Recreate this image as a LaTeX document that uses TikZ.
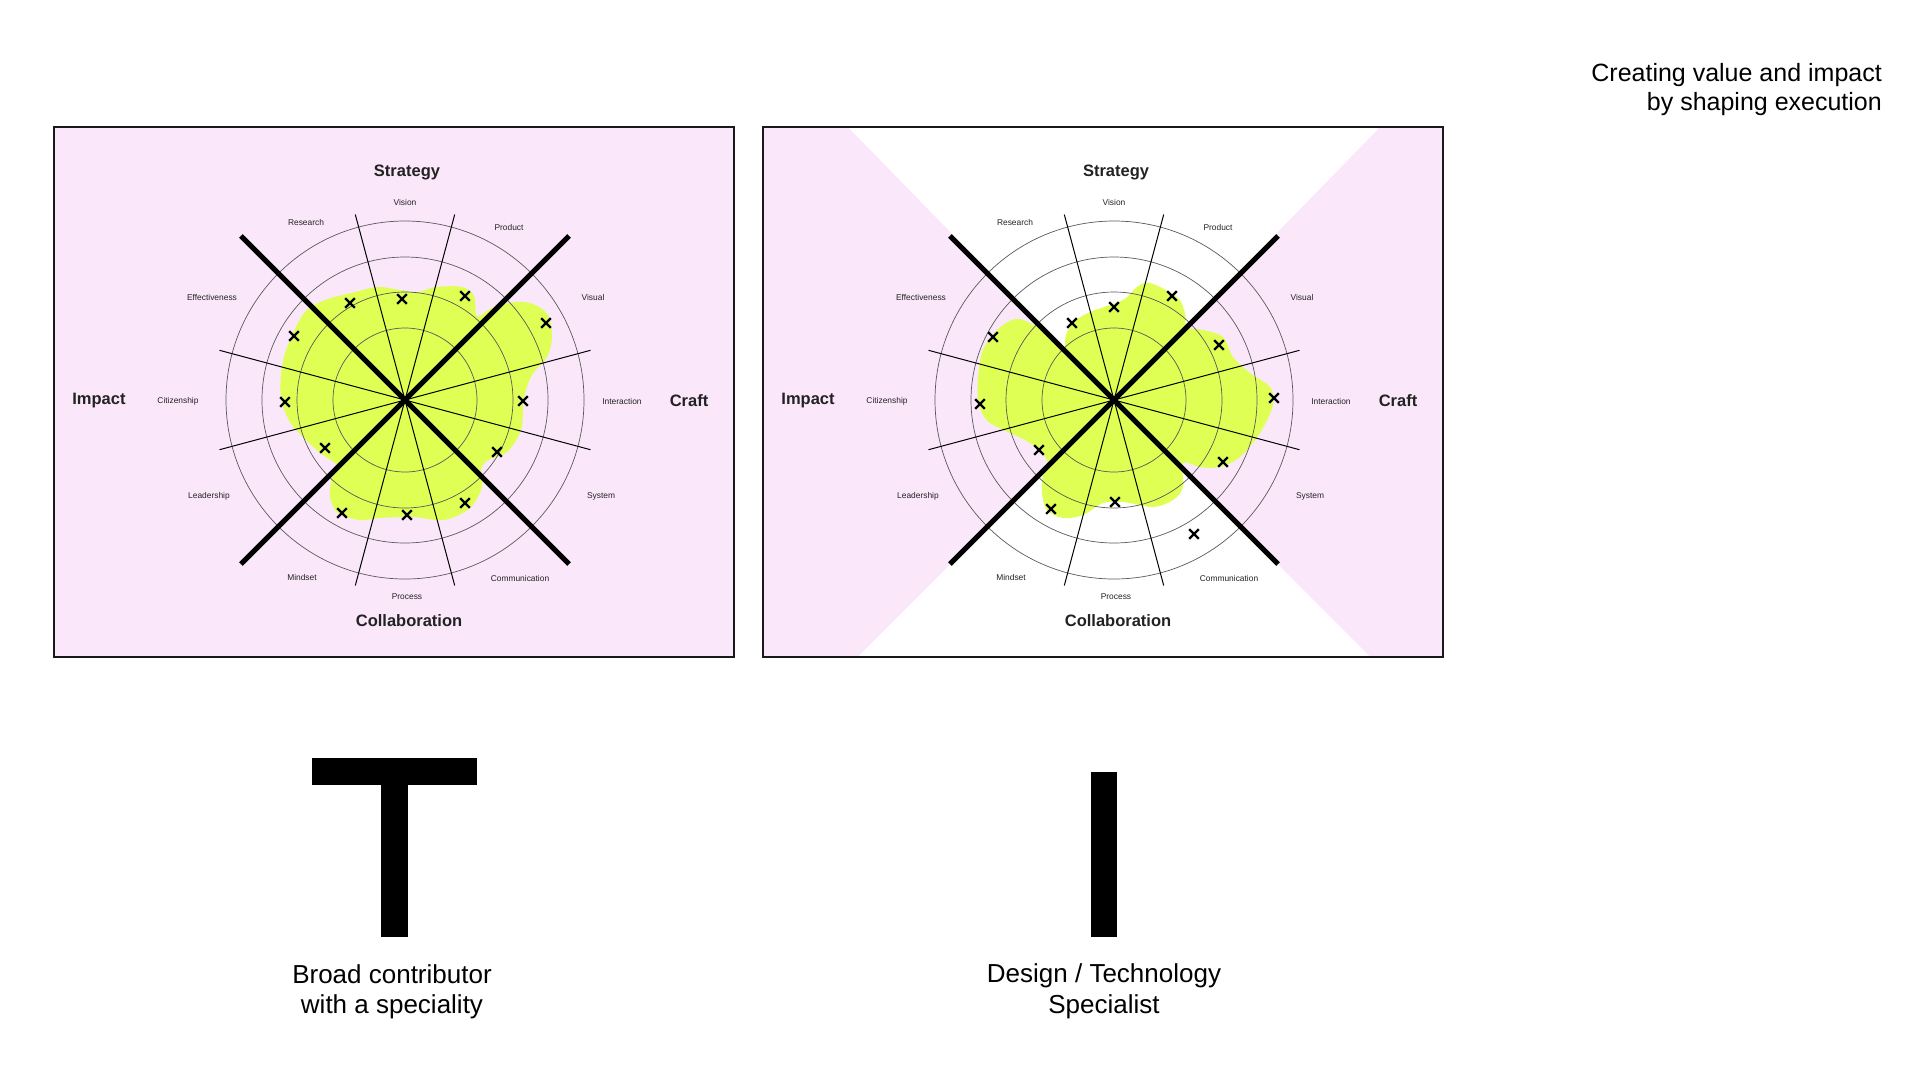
\documentclass[tikz,border=0pt]{standalone}
\usepackage{fontspec}
\setmainfont{Liberation Sans}
\usetikzlibrary{shapes.misc}

\definecolor{bgpink}{HTML}{FAE8FA}
\definecolor{blobgreen}{HTML}{DFFF55}
\definecolor{inkgrey}{HTML}{222222}

% grid, axes and labels of one radar chart, #1 = name prefix
\newcommand{\radargrid}[1]{%
    \foreach \r in {72,108,143,179}
        \draw[ring] (0,0) circle (\r);
    \foreach \a in {15,75,105,165}
        \draw[spoke] (\a:192) -- (\a+180:192);
    \foreach \a in {45,135}
        \draw[axisline] (\a:232) -- (\a+180:232);
    \foreach \t/\x/\y in {Vision/0/-198, Research/-99/-178, Product/104/-173,
        Effectiveness/-193/-103, Visual/188/-103, Citizenship/-227/1,
        Interaction/217/1, Leadership/-196/96, System/196/96,
        Mindset/-103/177, Process/2/197, Communication/115/178}
        \node[lbl] (#1-\t) at (\x,\y) {\t};
    \node[axislbl] (#1-strategy) at (2,-228) {Strategy};
    \node[axislbl] (#1-collab) at (4,221) {Collaboration};
    \node[axislbl] (#1-impact) at (-306,1) {Impact};
    \node[axislbl] (#1-craft) at (284,1) {Craft};
}

\begin{document}
\begin{tikzpicture}[x=1pt, y=-1pt,
    ring/.style={draw=black!65, line width=0.7pt},
    spoke/.style={draw=black, line width=1pt},
    axisline/.style={draw=black, line width=5pt},
    xmark/.style={cross out, draw=black, line width=2.2pt, minimum size=7.5pt, inner sep=0pt},
    blob/.style={fill=blobgreen},
    lbl/.style={font=\fontsize{8.4}{9}\selectfont, text=inkgrey, inner sep=0pt},
    axislbl/.style={font=\fontsize{16.5}{19}\selectfont\bfseries, text=inkgrey, inner sep=0pt},
    caption/.style={font=\fontsize{26}{30.5}\selectfont, align=center, inner sep=0pt, anchor=north},
    frame/.style={draw=black!90, line width=1.3pt}]

    \useasboundingbox (0,0) rectangle (1920,1080);

    % left chart: broad contributor
    \fill[bgpink] (54,127) rectangle (734,657);
    \begin{scope}[shift={(405,400)}]
        \fill[blob] plot[smooth cycle, tension=0.55] coordinates {
            (-124,-2) (-123,-34) (-115,-60) (-100,-88) (-80,-100) (-50,-108)
            (-27,-113) (-5,-110) (13,-108) (31,-113) (57,-113) (69,-104)
            (72,-84) (87,-92) (110,-98) (128,-96) (143,-85) (147,-63)
            (142,-43) (127,-25) (119,-2) (116,30) (102,52) (83,60) (76,70)
            (77,87) (65,108) (39,120) (8,117) (-25,118) (-45,120) (-67,113)
            (-75,97) (-73,78) (-67,66) (-85,53) (-102,37) (-115,22)};
        \radargrid{a}
        \foreach \x/\y [count=\i] in {-55/-97, -3/-101, 60/-104, 141/-77,
            -111/-64, -120/2, 118/1, -80/48, 92/52, -63/113, 2/115, 60/103}
            \node[xmark] (am\i) at (\x,\y) {};
    \end{scope}
    \draw[frame] (54,127) rectangle (734,657);

    % right chart: specialist
    \begin{scope}
        \clip (763,127) rectangle (1443,657);
        \fill[bgpink] (1114,400) -- ++(-700,-718) -- ++(0,1420) -- cycle;
        \fill[bgpink] (1114,400) -- ++(700,-718) -- ++(0,1420) -- cycle;
    \end{scope}
    \begin{scope}[shift={(1114,400)}]
        \fill[blob] plot[smooth cycle, tension=0.55] coordinates {
            (-136,0) (-136,-23) (-131,-50) (-117,-70) (-99,-81) (-84,-77)
            (-69,-67) (-56,-53) (-50,-48) (-48,-65) (-40,-78) (-24,-88)
            (9,-100) (23,-113) (36,-117) (63,-103) (71,-87) (73,-73)
            (89,-70) (109,-63) (119,-43) (136,-27) (156,-13) (159,5)
            (146,33) (126,57) (106,67) (86,67) (69,63) (69,87) (59,100)
            (39,107) (9,102) (-11,103) (-31,115) (-51,118) (-67,110)
            (-72,93) (-71,73) (-67,60) (-84,43) (-104,33) (-124,23) (-132,13)};
        \radargrid{b}
        \foreach \x/\y [count=\i] in {-42/-77, 0/-93, 58/-104, 105/-55,
            -121/-63, -134/4, 160/-2, -75/50, 109/62, -63/109, 1/102, 80/134}
            \node[xmark] (bm\i) at (\x,\y) {};
    \end{scope}
    \draw[frame] (763,127) rectangle (1443,657);

    \node[font=\fontsize{25}{29.3}\selectfont, align=right, inner sep=0pt, anchor=north east]
        (headline) at (1882,63) {Creating value and impact\\by shaping execution};

    % T and I shapes
    \fill (312,758) rectangle (477,785);
    \fill (381,785) rectangle (408,937);
    \fill (1091,772) rectangle (1117,937);

    \node[caption] (tcap) at (392,964) {Broad contributor\\with a speciality};
    \node[caption] (icap) at (1104,963.5) {Design / Technology\\Specialist};
\end{tikzpicture}
\end{document}
